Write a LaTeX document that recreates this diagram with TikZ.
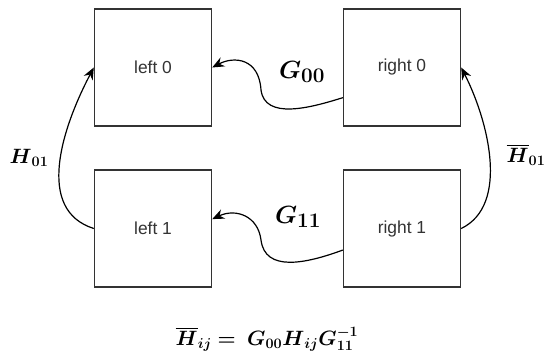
\documentclass[tikz,border=0pt]{standalone}
\usepackage{amsmath, amssymb}
\usepackage[no-math]{fontspec}
\newfontfamily\boxfont{Liberation Sans}
\usepackage{tikz}
\usetikzlibrary{positioning, arrows.meta}

\tikzset{
	blk/.style={draw=black!80, line width=1.4pt, fill=white, minimum size=117pt, inner sep=0pt,
		font=\boxfont\fontsize{17.4}{20}\selectfont, text=black!80},
	map/.style={line width=1.2pt, -{Stealth[length=12pt, width=10pt, inset=4pt]}},
	lbl/.style={inner sep=0pt}
}
\newcommand{\bb}[1]{\boldsymbol{#1}}

\begin{document}
\begin{tikzpicture}[x=1pt, y=-1pt]
	\useasboundingbox (0,0) rectangle (545,361);
	
	% 四个方框
	\node[blk] (l0) at (153,67.5)  {left 0};
	\node[blk] (r0) at (402,67.5)  {right 0};
	\node[blk] (l1) at (153,228.5) {left 1};
	\node[blk] (r1) at (402,228.5) {right 1};
	
	% 横向映射 G
	\draw[map] (r0.207) .. controls (310,108) and (265,120) .. (261,90)
		.. controls (259,58) and (234,56) .. (l0.east);
	\draw[map] (r1.200) .. controls (305,264) and (265,272) .. (261,240)
		.. controls (258,216) and (236,208) .. (l1.9);
	
	% 纵向映射 H
	\draw[map] (l1.west) .. controls (35,210) and (62,128) .. (l0.west);
	\draw[map] (r1.east) .. controls (510,205) and (488,120) .. (r0.east);
	
	% 标注
	\node[lbl, font=\fontsize{28}{32}\selectfont] (g0) at (302,72)  {$\bb{G}_{\mathbf{00}}$};
	\node[lbl, font=\fontsize{28}{32}\selectfont] (g1) at (298,217) {$\bb{G}_{\mathbf{11}}$};
	\node[lbl, font=\fontsize{20}{24}\selectfont] (h)  at (29,158)  {$\bb{H}_{\mathbf{01}}$};
	\node[lbl, font=\fontsize{20}{24}\selectfont] (hb) at (526,155) {$\overline{\bb{H}}_{\mathbf{01}}$};
	
	% 底部公式
	\node[lbl, font=\fontsize{20}{24}\selectfont] (eq) at (267,339)
		{$\overline{\bb{H}}_{\bb{ij}} \mathrel{\bb{=}}\; \bb{G}_{\mathbf{00}}\bb{H}_{\bb{ij}}\bb{G}_{\mathbf{11}}^{\bb{-}\mathbf{1}}$};
\end{tikzpicture}
\end{document}
